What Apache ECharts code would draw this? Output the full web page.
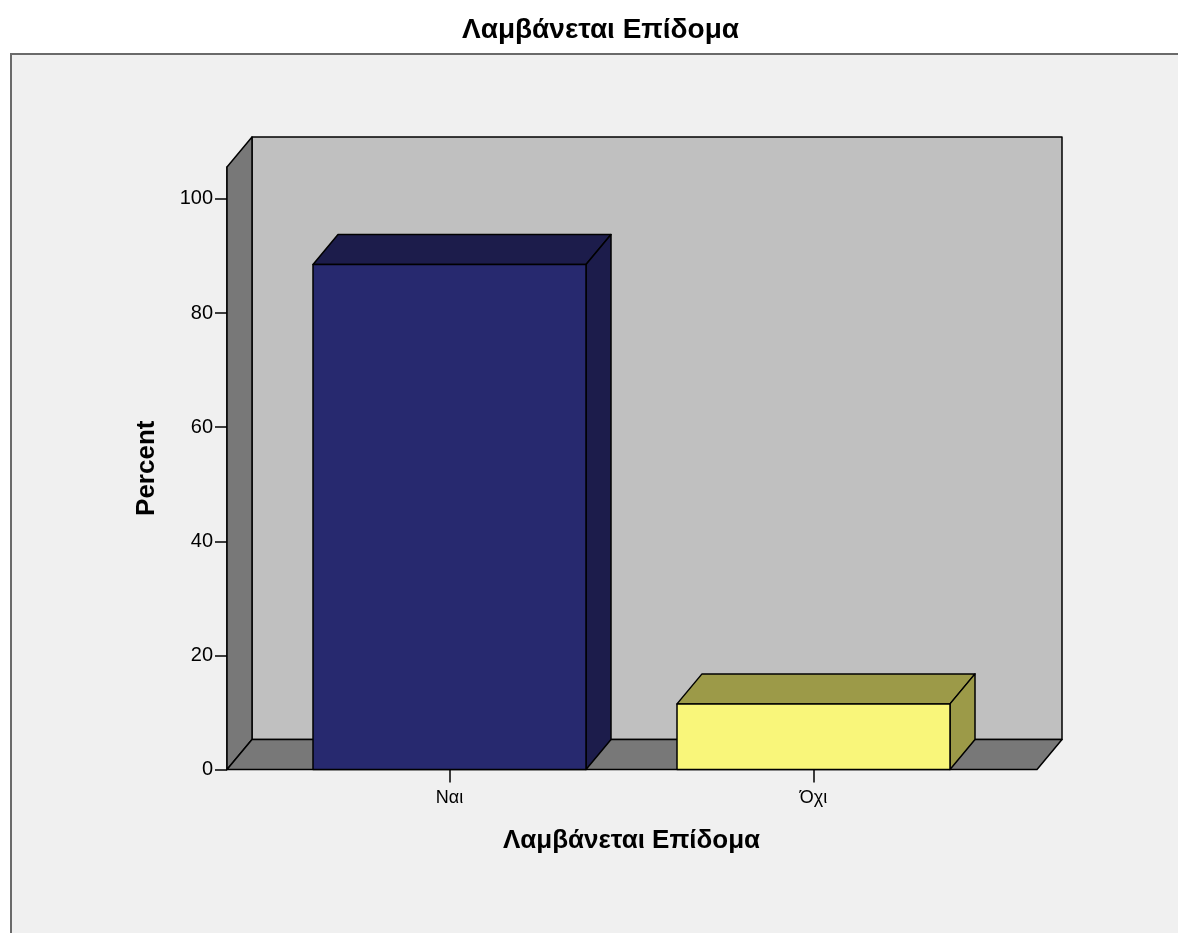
<!DOCTYPE html>
<html>
<head>
<meta charset="utf-8">
<script src="https://cdn.jsdelivr.net/npm/echarts@6/dist/echarts.min.js"></script>
<style>
* { margin: 0; padding: 0; }
html, body { background: #ffffff; }
#chart-container { width: 1178px; height: 933px; }
</style>
</head>
<body>
<div id="chart-container"></div>
<script>
// data
const categories = ['Ναι', 'Όχι']
const percents = [88.5, 11.5]
const yTicks = [0, 20, 40, 60, 80, 100]
const chartTitle = 'Λαμβάνεται Επίδομα'
const xName = 'Λαμβάνεται Επίδομα'
const yName = 'Percent'

// look
const frontColors = ['#27296f', '#f9f67a']
const shadeColors = ['#1c1c4b', '#9c9a48']
const DX = 25
const DY = 30
const FLOOR_LEFT = 40.5
const FLOOR_RIGHT = 41.5
const FONT = '"Liberation Sans", Arial, sans-serif'

const chart = echarts.init(document.getElementById('chart-container'), null, { renderer: 'canvas' })

const renderWalls = (params, api) => {
  const cs = params.coordSys
  const left = cs.x - FLOOR_LEFT
  const right = cs.x + cs.width + FLOOR_RIGHT
  const top = cs.y
  const bottom = cs.y + cs.height
  const stroke = { stroke: '#000', lineWidth: 1.5, lineJoin: 'round' }
  return {
    type: 'group',
    children: [
      {
        type: 'rect',
        shape: { x: left + DX, y: top - DY, width: right - left, height: bottom - top },
        style: Object.assign({ fill: '#c0c0c0' }, stroke)
      },
      {
        type: 'polygon',
        shape: { points: [[left, bottom], [left, top], [left + DX, top - DY], [left + DX, bottom - DY]] },
        style: Object.assign({ fill: '#787878' }, stroke)
      },
      {
        type: 'polygon',
        shape: { points: [[left, bottom], [right, bottom], [right + DX, bottom - DY], [left + DX, bottom - DY]] },
        style: Object.assign({ fill: '#787878' }, stroke)
      }
    ]
  }
}

const renderBar = (params, api) => {
  const idx = api.value(0)
  const val = api.value(1)
  const base = api.coord([idx, 0])
  const top = api.coord([idx, val])
  const bw = api.size([1, 0])[0] * 0.75
  const x0 = base[0] - bw / 2
  const x1 = base[0] + bw / 2
  const y0 = base[1]
  const y1 = top[1]
  const i = params.dataIndex
  const stroke = { stroke: '#000', lineWidth: 1.5, lineJoin: 'round' }
  return {
    type: 'group',
    children: [
      {
        type: 'polygon',
        shape: { points: [[x0, y1], [x0 + DX, y1 - DY], [x1 + DX, y1 - DY], [x1, y1]] },
        style: Object.assign({ fill: shadeColors[i] }, stroke)
      },
      {
        type: 'polygon',
        shape: { points: [[x1, y1], [x1 + DX, y1 - DY], [x1 + DX, y0 - DY], [x1, y0]] },
        style: Object.assign({ fill: shadeColors[i] }, stroke)
      },
      {
        type: 'rect',
        shape: { x: x0, y: y1, width: bw, height: y0 - y1 },
        style: Object.assign({ fill: frontColors[i] }, stroke)
      }
    ]
  }
}

const option = {
  animation: false,
  backgroundColor: '#ffffff',
  title: {
    text: chartTitle,
    left: 457,
    top: 11,
    textStyle: { fontFamily: FONT, fontSize: 28, fontWeight: 'bold', color: '#000' }
  },
  graphic: [
    {
      type: 'rect',
      z: -10,
      shape: { x: 11, y: 54, width: 1300, height: 1000 },
      style: { fill: '#f0f0f0', stroke: '#6a6a6a', lineWidth: 2 }
    }
  ],
  grid: {
    left: 267.5,
    width: 728,
    top: 167,
    height: 602.5
  },
  xAxis: {
    type: 'category',
    data: categories,
    name: xName,
    nameLocation: 'middle',
    nameGap: 58,
    nameTextStyle: { fontFamily: FONT, fontSize: 26, fontWeight: 'bold', color: '#000' },
    axisLine: { show: false },
    axisTick: { show: true, alignWithLabel: true, length: 13, lineStyle: { color: '#000', width: 1.5 } },
    axisLabel: { margin: 20, fontFamily: FONT, fontSize: 18, color: '#000' },
    splitLine: { show: false }
  },
  yAxis: {
    type: 'value',
    min: 0,
    max: 105.6,
    offset: 40.5,
    name: yName,
    nameLocation: 'middle',
    nameRotate: 90,
    nameGap: 67,
    nameTextStyle: { fontFamily: FONT, fontSize: 26, fontWeight: 'bold', color: '#000' },
    axisLine: { show: true, lineStyle: { color: '#000', width: 1.5 } },
    axisTick: { show: true, length: 12, customValues: yTicks, lineStyle: { color: '#000', width: 1.5 } },
    axisLabel: { margin: 14, customValues: yTicks, fontFamily: FONT, fontSize: 20, color: '#000' },
    splitLine: { show: false }
  },
  series: [
    {
      type: 'custom',
      name: 'walls',
      z: 1,
      silent: true,
      clip: false,
      renderItem: renderWalls,
      data: [[0, 0]],
      encode: { x: 0, y: 1 }
    },
    {
      type: 'custom',
      name: 'Percent',
      z: 3,
      clip: false,
      renderItem: renderBar,
      data: percents.map((v, i) => [i, v]),
      encode: { x: 0, y: 1 }
    }
  ]
}

chart.setOption(option)
</script>
</body>
</html>
